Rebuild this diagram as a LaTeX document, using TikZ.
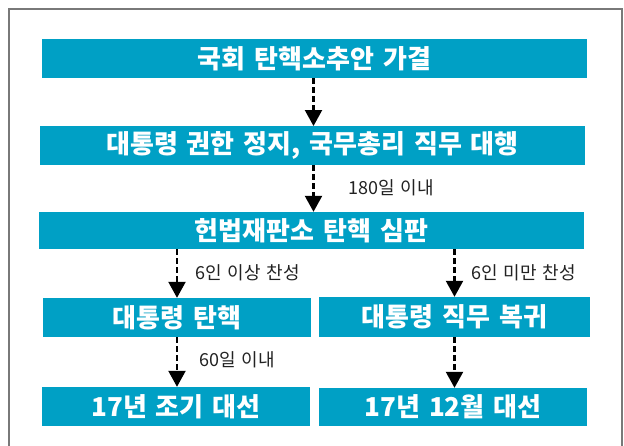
\documentclass[tikz,border=0pt]{standalone}
\usepackage{fontspec}
\setmainfont{Liberation Sans}
\newfontfamily\kr[WordSpace=1.5]{Noto Sans CJK KR}
\usetikzlibrary{arrows.meta}
\definecolor{teal}{RGB}{0,160,197}
\definecolor{labelgray}{RGB}{34,34,34}
\tikzset{
  box/.style={fill=teal, inner sep=0pt, text=white, font=\kr\bfseries\fontsize{26}{28}\selectfont},
  flow/.style={line width=2.2pt, dash pattern=on 6pt off 3pt, -{Triangle[width=17pt,length=16pt]}},
  lbl/.style={anchor=west, inner sep=0pt, text=labelgray, font=\kr\fontsize{18}{20}\selectfont},
}
\begin{document}
\begin{tikzpicture}[x=1pt,y=-1pt]
\useasboundingbox (0,0) rectangle (624,445);
\draw[gray!95!black, line width=1.6pt] (9,450) -- (9,9) -- (622,9) -- (622,450);
\node[box, minimum width=545pt, minimum height=39pt] (b1) at (314.5,58.5) {국회 탄핵소추안 가결};
\node[box, minimum width=545pt, minimum height=39pt] (b2) at (312.5,145.5) {대통령 권한 정지, 국무총리 직무 대행};
\node[box, minimum width=545pt, minimum height=37pt] (b3) at (311.5,230.5) {헌법재판소 탄핵 심판};
\node[box, minimum width=268pt, minimum height=39pt] (b4) at (177,317.5) {대통령 탄핵};
\node[box, minimum width=271pt, minimum height=40pt] (b5) at (454.5,317) {대통령 직무 복귀};
\node[box, minimum width=268pt, minimum height=39pt] (b6) at (176,406.5) {17년 조기 대선};
\node[box, minimum width=268pt, minimum height=38pt] (b7) at (453,407) {17년 12월 대선};
\coordinate (a1s) at (313.5,78);
\coordinate (a1e) at (313.5,126);
\draw[flow] (a1s) -- (a1e);
\draw[flow] (b2.south -| a1s) -- (b3.north -| a1s);
\draw[flow] (b3.south -| b4.north) -- (b4.north);
\draw[flow] (b3.south -| b5.north) -- (b5.north);
\draw[flow] (b4.south) -- (b6.north -| b4.south);
\draw[flow] (b5.south) -- (b7.north -| b5.south);
\node[lbl] (l1) at (348,188) {180일 이내};
\node[lbl] (l2) at (195,273) {6인 이상 찬성};
\node[lbl] (l3) at (471,273) {6인 미만 찬성};
\node[lbl] (l4) at (199,360) {60일 이내};
\end{tikzpicture}
\end{document}
